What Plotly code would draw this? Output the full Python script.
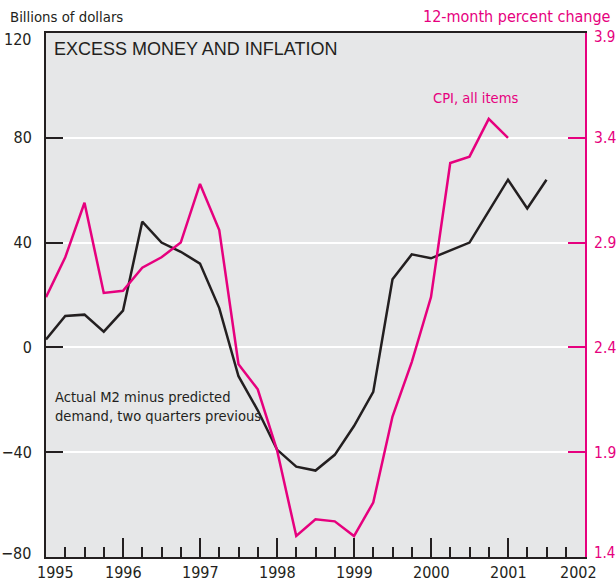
import plotly.graph_objects as go

# Quarterly dates (decimal years)
m2_x = [1995.0, 1995.25, 1995.5, 1995.75, 1996.0, 1996.25, 1996.5, 1996.75,
        1997.0, 1997.25, 1997.5, 1997.75, 1998.0, 1998.25, 1998.5, 1998.75,
        1999.0, 1999.25, 1999.5, 1999.75, 2000.0, 2000.25, 2000.5, 2000.75,
        2001.0, 2001.25, 2001.5]
m2_vals = [3, 12, 12.5, 6, 14, 48, 40, 36.5,
           32, 15, -11, -24, -39, -45.5, -47, -41,
           -30, -17, 26, 35.5, 34, 37, 40, 52,
           64, 53, 64]

cpi_x = [1995.0, 1995.25, 1995.5, 1995.75, 1996.0, 1996.25, 1996.5, 1996.75,
         1997.0, 1997.25, 1997.5, 1997.75, 1998.0, 1998.25, 1998.5, 1998.75,
         1999.0, 1999.25, 1999.5, 1999.75, 2000.0, 2000.25, 2000.5, 2000.75,
         2001.0]
cpi_vals = [2.64, 2.83, 3.09, 2.66, 2.67, 2.78, 2.83, 2.90,
            3.18, 2.96, 2.32, 2.20, 1.91, 1.50, 1.58, 1.57,
            1.50, 1.66, 2.07, 2.33, 2.64, 3.28, 3.31, 3.49,
            3.40]

year_labels = ["1995", "1996", "1997", "1998", "1999", "2000", "2001", "2002"]
year_label_pos = [1995.12, 1996, 1997, 1998, 1999, 2000, 2001, 2001.91]

# inner ticks get axis labels; the range ends are labelled slightly inset
left_ticks = [-40, 0, 40, 80]
left_tick_text = ["\u221240", "0", "40", "80"]
left_end_vals = [120, -80]
left_end_text = ["120", "\u221280"]
right_ticks = [1.9, 2.4, 2.9, 3.4]
right_end_vals = [3.9, 1.4]

PINK = "#e6007e"
BLACK = "#231f20"
BG = "#e6e7e8"
NARROW = "DejaVu Sans Condensed, Liberation Sans Narrow, sans-serif"
REG = "Liberation Sans, Arial, sans-serif"

W, H = 616, 583
L, R, T, B = 46, 31, 33, 26
PW, PH = W - L - R, H - T - B


def px(x):
    return (x - L) / PW


def py(y):
    return 1 - (y - T) / PH


fig = go.Figure()
fig.add_trace(go.Scatter(x=m2_x, y=m2_vals, mode="lines",
                         line=dict(color=BLACK, width=2.5), yaxis="y",
                         showlegend=False, hoverinfo="skip"))
fig.add_trace(go.Scatter(x=cpi_x, y=cpi_vals, mode="lines",
                         line=dict(color=PINK, width=2.5), yaxis="y2",
                         showlegend=False, hoverinfo="skip"))

fig.update_layout(
    width=W, height=H,
    margin=dict(l=L, r=R, t=T, b=B, pad=0, autoexpand=False),
    paper_bgcolor="white",
    plot_bgcolor=BG,
    font=dict(family=NARROW, size=15, color=BLACK),
    xaxis=dict(range=[1995, 2002], showgrid=False, zeroline=False,
               tickmode="linear", tick0=1995, dtick=1,
               ticks="inside", ticklen=19, tickwidth=2, tickcolor=BLACK,
               showticklabels=False, automargin=False,
               minor=dict(tickmode="linear", tick0=1995, dtick=0.25,
                          ticks="inside", ticklen=10, tickwidth=2,
                          tickcolor=BLACK, showgrid=False),
               showline=True, linecolor=BLACK, linewidth=2, mirror=True),
    yaxis=dict(range=[-80, 120], tickvals=left_ticks, ticktext=left_tick_text,
               ticks="inside", ticklen=17, tickwidth=2, tickcolor=BLACK,
               showgrid=True, gridcolor="white", gridwidth=2,
               zeroline=False, showline=True, linecolor=BLACK, linewidth=2,
               automargin=False,
               tickfont=dict(family=NARROW, size=16, color=BLACK),
               ticklabelstandoff=9),
    yaxis2=dict(range=[1.4, 3.9], tickvals=right_ticks,
                ticktext=[f"{v:.1f}" for v in right_ticks],
                overlaying="y", side="right",
                ticks="inside", ticklen=17, tickwidth=2, tickcolor=PINK,
                showgrid=False, zeroline=False, automargin=False,
                showline=True, linecolor=PINK, linewidth=2,
                tickfont=dict(family=NARROW, size=15.5, color=PINK),
                ticklabelstandoff=4),
)

ann = []
ann.append(dict(text="Billions of dollars", x=px(8), y=py(17), xref="paper", yref="paper",
                xanchor="left", yanchor="middle", showarrow=False,
                font=dict(family=NARROW, size=14.8, color=BLACK)))
ann.append(dict(text="12-month percent change", x=px(613), y=py(17), xref="paper", yref="paper",
                xanchor="right", yanchor="middle", showarrow=False,
                font=dict(family=NARROW, size=16, color=PINK)))
ann.append(dict(text="EXCESS MONEY AND INFLATION", x=px(52), y=py(49), xref="paper", yref="paper",
                xanchor="left", yanchor="middle", showarrow=False,
                font=dict(family=REG, size=18, color=BLACK)))
ann.append(dict(text="CPI, all items", x=px(475), y=py(98), xref="paper", yref="paper",
                xanchor="center", yanchor="middle", showarrow=False,
                font=dict(family=NARROW, size=14.6, color=PINK)))
ann.append(dict(text="Actual M2 minus predicted<br>demand, two quarters previous",
                x=px(53), y=py(406), xref="paper", yref="paper",
                xanchor="left", yanchor="middle", align="left", showarrow=False,
                font=dict(family=NARROW, size=14.6, color=BLACK)))
for lab, pos in zip(year_labels, year_label_pos):
    ann.append(dict(text=lab, x=pos, y=py(583), xref="x", yref="paper",
                    xanchor="center", yanchor="bottom", borderpad=0, showarrow=False,
                    font=dict(family=NARROW, size=16, color=BLACK)))
# range-end labels of the left axis, inset like the original
for val, lab, shift in zip(left_end_vals, left_end_text, [-6, 4]):
    ann.append(dict(text=lab, x=px(33), y=val, xref="paper", yref="y",
                    xanchor="right", yanchor="middle", yshift=shift, showarrow=False,
                    font=dict(family=NARROW, size=16, color=BLACK)))
for val, shift in zip(right_end_vals, [-4, 4]):
    ann.append(dict(text=f"{val:.1f}", x=px(593), y=val, xref="paper", yref="y2",
                    xanchor="left", yanchor="middle", yshift=shift, borderpad=0,
                    showarrow=False,
                    font=dict(family=NARROW, size=15, color=PINK)))
fig.update_layout(annotations=ann)

fig.write_html("out.html", config={"displayModeBar": False},
               post_script="document.body.style.margin='0';"
                           "document.body.style.overflow='hidden';"
                           "document.documentElement.style.overflow='hidden';")
